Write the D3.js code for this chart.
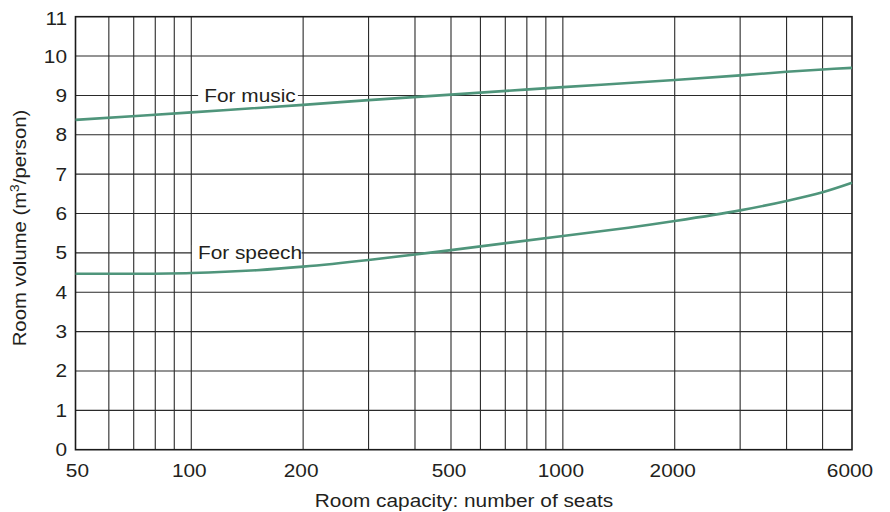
<!DOCTYPE html>
<html>
<head>
<meta charset="utf-8">
<script src="https://cdn.jsdelivr.net/npm/d3@7"></script>
<style>
  html, body { margin: 0; padding: 0; background: #fff; }
  svg { display: block; }
  text { font-family: "Liberation Sans", Arial, Helvetica, sans-serif; fill: #231f20; }
</style>
</head>
<body>
<svg id="chart" width="890" height="512"></svg>
<script>
// ---- data ----
const musicSeats  = [48.8, 100, 200, 300, 500, 1000, 2000, 3000, 4000, 5000, 6000];
const musicValues = [8.38, 8.57, 8.76, 8.88, 9.02, 9.21, 9.39, 9.51, 9.60, 9.66, 9.70];
const speechSeats  = [48.8, 70, 100, 150, 200, 300, 400, 500, 1000, 1500, 2000, 3000, 4000, 5000, 6000];
const speechValues = [4.47, 4.47, 4.49, 4.56, 4.65, 4.82, 4.96, 5.07, 5.43, 5.64, 5.81, 6.08, 6.32, 6.54, 6.78];
const xTickLabels = [50, 100, 200, 500, 1000, 2000, 6000];
const xGridValues = [60, 70, 80, 90, 100, 200, 300, 400, 500, 600, 700, 800, 900, 1000, 2000, 3000, 4000, 5000];
const yTickValues = [0, 1, 2, 3, 4, 5, 6, 7, 8, 9, 10, 11];
const seriesLabels = [
  { text: "For music",  value: 9 },
  { text: "For speech", value: 5 }
];
const xTitle = "Room capacity: number of seats";

// ---- layout ----
const svg = d3.select("#chart");
const mLeft = 75.5, mRight = 852, mTop = 16.7, mBottom = 449.7;
const x = d3.scaleLog().domain([48.8, 6000]).range([mLeft, mRight]);
const y = d3.scaleLinear().domain([0, 11]).range([mBottom, mTop]);
const lineColor = "#4f957b";
const gridColor = "#2a2a2a";
const FS = 17.5, SX = 1.19;

function addText(parent, tx, ty, str, anchor, sx) {
  return parent.append("text")
    .attr("transform", `translate(${tx},${ty}) scale(${sx || SX},1)`)
    .attr("text-anchor", anchor).attr("font-size", FS).text(str);
}

// grid
const g = svg.append("g");
g.selectAll("line.v").data(xGridValues).enter().append("line")
  .attr("x1", d => x(d)).attr("x2", d => x(d))
  .attr("y1", mTop).attr("y2", mBottom)
  .attr("stroke", gridColor).attr("stroke-width", 1.1);
g.selectAll("line.h").data(yTickValues.slice(1, -1)).enter().append("line")
  .attr("x1", mLeft).attr("x2", mRight)
  .attr("y1", d => y(d)).attr("y2", d => y(d))
  .attr("stroke", gridColor).attr("stroke-width", 1.1);

// frame
svg.append("rect")
  .attr("x", mLeft).attr("y", mTop)
  .attr("width", mRight - mLeft).attr("height", mBottom - mTop)
  .attr("fill", "none").attr("stroke", "#1a1a1a").attr("stroke-width", 1.6);

// series labels with white backgrounds that break the grid lines
const labelX = 250;
seriesLabels.forEach(l => {
  const bg = svg.append("rect").attr("fill", "#fff");
  const t = addText(svg, labelX, y(l.value) + 6.5, l.text, "middle");
  const bb = t.node().getBBox();
  const w = bb.width * SX;
  const x0 = labelX - w / 2 - 6;
  const x1 = Math.min(labelX + w / 2 + 2, x(200) - 1.5);
  bg.attr("x", x0).attr("y", y(l.value) - 8).attr("width", x1 - x0).attr("height", 16);
});

// lines
const line = d3.line().curve(d3.curveCatmullRom.alpha(0.5)).x(d => x(d[0])).y(d => y(d[1]));
svg.append("path")
  .datum(musicSeats.map((s, i) => [s, musicValues[i]]))
  .attr("d", line).attr("fill", "none")
  .attr("stroke", lineColor).attr("stroke-width", 2.6);
svg.append("path")
  .datum(speechSeats.map((s, i) => [s, speechValues[i]]))
  .attr("d", line).attr("fill", "none")
  .attr("stroke", lineColor).attr("stroke-width", 2.6);

// y ticks
yTickValues.forEach(d => addText(svg, 67, y(d) + 6.5 + (d === 11 ? 2 : 0), d, "end"));

// x ticks
xTickLabels.forEach(d => addText(svg, x(d) - 2, 476.5, d, "middle"));

// axis titles
addText(svg, 464, 507, xTitle, "middle");

const yt = svg.append("text")
  .attr("transform", "translate(26,228) rotate(-90) scale(1.16,1)")
  .attr("text-anchor", "middle").attr("font-size", FS);
yt.append("tspan").text("Room volume (m");
yt.append("tspan").attr("font-size", 12).attr("dy", -7).text("3");
yt.append("tspan").attr("dy", 7).text("/person)");
</script>
</body>
</html>
